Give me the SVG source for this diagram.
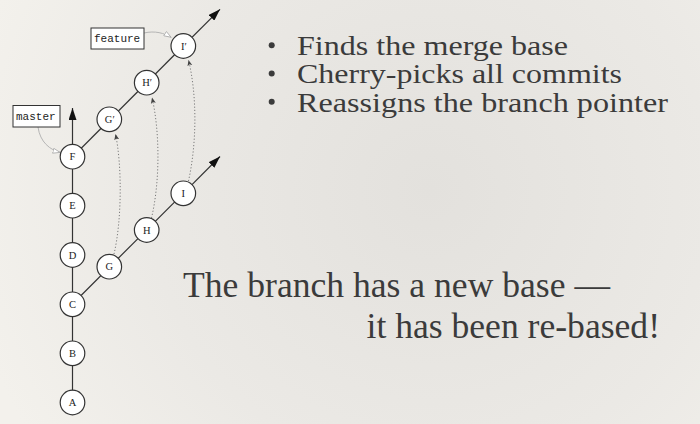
<svg xmlns="http://www.w3.org/2000/svg" width="700" height="424" viewBox="0 0 700 424">
  <defs>
    <radialGradient id="paper" cx="430" cy="190" r="470" gradientUnits="userSpaceOnUse">
      <stop offset="0" stop-color="#e3e1dd"/>
      <stop offset="0.6" stop-color="#ebe9e5"/>
      <stop offset="1" stop-color="#f3f1ec"/>
    </radialGradient>
    <marker id="solid" viewBox="0 0 12 8" refX="12" refY="4" markerWidth="12" markerHeight="8" markerUnits="userSpaceOnUse" orient="auto">
      <path d="M0,0 L12,4 L0,8 Z" fill="#111"/>
    </marker>
    <marker id="hollow" viewBox="0 0 8 6" refX="8" refY="3" markerWidth="8" markerHeight="6" markerUnits="userSpaceOnUse" orient="auto">
      <path d="M0.5,0.5 L7.5,3 L0.5,5.5 Z" fill="#fff" stroke="#aaa" stroke-width="0.8"/>
    </marker>
    <marker id="dot" viewBox="0 0 6 6" refX="6" refY="3" markerWidth="6" markerHeight="6" markerUnits="userSpaceOnUse" orient="auto">
      <path d="M0,0.5 L6,3 L0,5.5 L1.5,3 Z" fill="#444"/>
    </marker>
  </defs>
  <style>
    .edge { stroke: #333; stroke-width: 1.2; fill: none; }
    .copy { stroke: #7a7a7a; stroke-width: 1; stroke-dasharray: 1.2 2; fill: none; }
    .ptr { stroke: #b5b5b5; stroke-width: 1; fill: none; }
    .commit circle { fill: #fff; stroke: #333; stroke-width: 1.2; }
    .commit text { font-family: "Liberation Serif", "DejaVu Serif", serif; font-size: 10.5px; fill: #222; text-anchor: middle; }
    .ref rect { fill: #fff; stroke: #333; stroke-width: 1; }
    .ref text { font-family: "Liberation Mono", "DejaVu Sans Mono", monospace; font-size: 11px; fill: #222; }
    .body { font-family: "Liberation Serif", "DejaVu Serif", serif; fill: #3b3b3b; }
  </style>

  <rect width="700" height="424" fill="url(#paper)"/>

  <!-- history lines and rebase copies -->
  <g id="connectors">
    <line class="edge" x1="72.5" y1="402" x2="72.5" y2="157"/>
    <line class="edge" x1="72.5" y1="145" x2="72.5" y2="108" marker-end="url(#solid)"/>
    <line class="edge" x1="72.5" y1="304" x2="183.3" y2="193.3"/>
    <line class="edge" x1="183.3" y1="193.3" x2="220" y2="156.5" marker-end="url(#solid)"/>
    <line class="edge" x1="72.5" y1="157" x2="183.3" y2="46"/>
    <line class="edge" x1="183.3" y1="46" x2="220" y2="9.3" marker-end="url(#solid)"/>
    <path class="copy" d="M114,254 C122,220 122,165 115.5,134" marker-end="url(#dot)"/>
    <path class="copy" d="M151.5,218 C160,182 160,132 152,97.5" marker-end="url(#dot)"/>
    <path class="copy" d="M188.5,181 C197,142 197,95 188.5,60" marker-end="url(#dot)"/>
    <path class="ptr" d="M38,127 C40,142 50,150 60.5,152.5" marker-end="url(#hollow)"/>
    <path class="ptr" d="M144,33 C155,30.5 164,33 171.5,37.5" marker-end="url(#hollow)"/>
  </g>

  <!-- commits -->
  <g id="A" class="commit"><circle cx="72.5" cy="402.5" r="12.3"/><text x="72.5" y="406">A</text></g>
  <g id="B" class="commit"><circle cx="72.5" cy="353.3" r="12.3"/><text x="72.5" y="356.8">B</text></g>
  <g id="C" class="commit"><circle cx="72.5" cy="304.3" r="12.3"/><text x="72.5" y="307.8">C</text></g>
  <g id="D" class="commit"><circle cx="72.5" cy="255" r="12.3"/><text x="72.5" y="258.5">D</text></g>
  <g id="E" class="commit"><circle cx="72.5" cy="205.7" r="12.3"/><text x="72.5" y="209.2">E</text></g>
  <g id="F" class="commit"><circle cx="72.5" cy="156.7" r="12.3"/><text x="72.5" y="160.2">F</text></g>
  <g id="G" class="commit"><circle cx="109.3" cy="266.7" r="12.3"/><text x="109.3" y="270.2">G</text></g>
  <g id="H" class="commit"><circle cx="146.7" cy="230" r="12.3"/><text x="146.7" y="233.5">H</text></g>
  <g id="I" class="commit"><circle cx="183.3" cy="193.3" r="12.3"/><text x="183.3" y="196.8">I</text></g>
  <g id="G2" class="commit"><circle cx="109.3" cy="119.3" r="12.3"/><text x="109.8" y="122.8">G′</text></g>
  <g id="H2" class="commit"><circle cx="146.7" cy="82.7" r="12.3"/><text x="147.2" y="86.2">H′</text></g>
  <g id="I2" class="commit"><circle cx="183.3" cy="46" r="12.3"/><text x="183.8" y="49.5">I′</text></g>

  <!-- branch pointers -->
  <g id="master" class="ref"><rect x="13" y="105.5" width="47" height="21.5"/><text x="16" y="120">master</text></g>
  <g id="feature" class="ref"><rect x="91" y="28" width="53" height="21"/><text x="94" y="42">feature</text></g>

  <!-- bullet list -->
  <g id="bullets" class="body">
    <circle cx="271.7" cy="45.3" r="3"/>
    <circle cx="271.7" cy="73.5" r="3"/>
    <circle cx="271.7" cy="101.8" r="3"/>
    <text x="297" y="55" font-size="28" textLength="271" lengthAdjust="spacingAndGlyphs">Finds the merge base</text>
    <text x="297" y="83.3" font-size="28" textLength="325" lengthAdjust="spacingAndGlyphs">Cherry-picks all commits</text>
    <text x="297" y="111.7" font-size="28" textLength="371" lengthAdjust="spacingAndGlyphs">Reassigns the branch pointer</text>
  </g>

  <!-- summary -->
  <g id="summary" class="body">
    <text x="183" y="296.7" font-size="35" textLength="427" lengthAdjust="spacingAndGlyphs">The branch has a new base —</text>
    <text x="366.5" y="338.3" font-size="35" textLength="293.5" lengthAdjust="spacingAndGlyphs">it has been re-based!</text>
  </g>
</svg>
